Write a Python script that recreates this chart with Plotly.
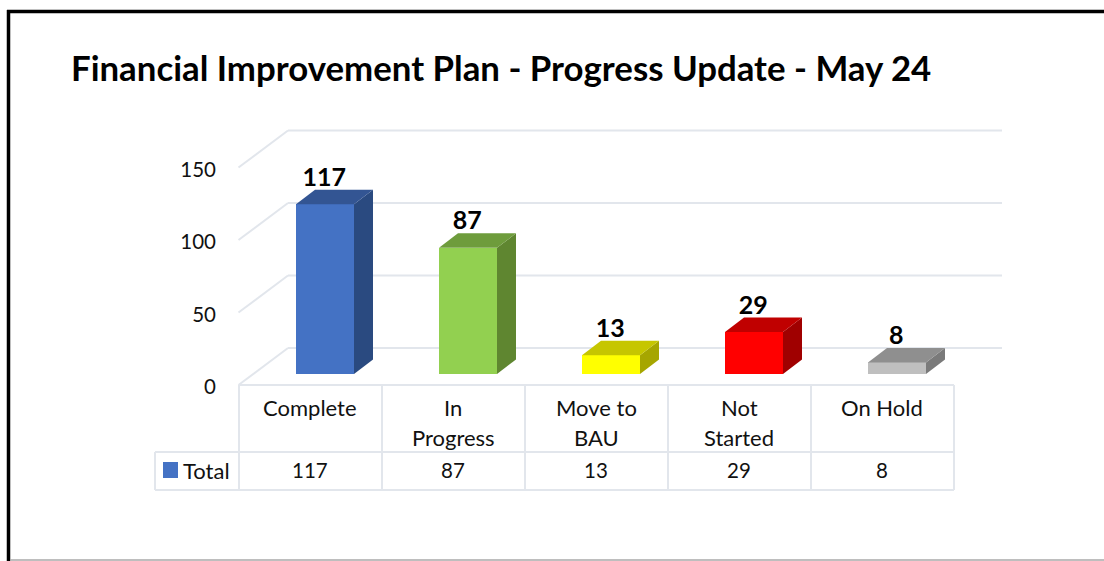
import plotly.graph_objects as go

TITLE = "Financial Improvement Plan - Progress Update - May 24"
categories = ["Complete", "In\nProgress", "Move to\nBAU", "Not\nStarted", "On Hold"]
values = [117, 87, 13, 29, 8]
series_name = "Total"
y_ticks = [0, 50, 100, 150]
front_colors = ["#4472C4", "#92D050", "#FFFF00", "#FF0000", "#BFBFBF"]
side_colors = ["#2A4A80", "#5F8630", "#A6A600", "#A00000", "#7A7A7A"]
top_colors = ["#335593", "#6E9C3C", "#C6C600", "#C00000", "#8F8F8F"]

W, H = 1104, 561
PITCH = 143.0       # px per category
X0 = 325.0          # px of first bar centre
UNIT = 1.45         # px per value unit
Y0 = 374.0          # px of value 0 on the bars' front plane
FONT = "Lato"
GRID = "#E2E6EC"
TEXT = "#111111"

BAR_W = 58 / PITCH
DX = 19 / PITCH     # depth offset in x (data)
DY = 14.5 / UNIT    # depth offset in y (data)

def px(v):
    return (v - X0) / PITCH
def py(v):
    return (Y0 - v) / UNIT
def pfx(v):
    return v / W
def pfy(v):
    return 1 - v / H

fig = go.Figure()
idx = list(range(len(values)))
fig.add_bar(x=idx, y=values, width=BAR_W, marker=dict(color=front_colors, line=dict(width=0)),
            hoverinfo="skip", showlegend=False)

for i, v in enumerate(values):
    l, r = i - BAR_W / 2, i + BAR_W / 2
    fig.add_scatter(x=[r, r + DX, r + DX, r, r], y=[0, DY, v + DY, v, 0], mode="lines",
                    fill="toself", fillcolor=side_colors[i], line=dict(width=0),
                    hoverinfo="skip", showlegend=False)
    fig.add_scatter(x=[l, l + DX, r + DX, r, l], y=[v, v + DY, v + DY, v, v], mode="lines",
                    fill="toself", fillcolor=top_colors[i], line=dict(width=0),
                    hoverinfo="skip", showlegend=False)

# data labels
fig.add_scatter(x=[i - 0.005 for i in idx], y=[v + DY + 7.0 for v in values], mode="text",
                text=[str(v) for v in values], textposition="middle center",
                textfont=dict(family=FONT, size=25, color="#000000", weight="bold"),
                hoverinfo="skip", showlegend=False)

shapes = []
def line(x0, y0, x1, y1, color=GRID, width=2, xref="paper", yref="paper", layer="above"):
    shapes.append(dict(type="line", x0=x0, y0=y0, x1=x1, y1=y1, xref=xref, yref=yref,
                       layer=layer, line=dict(color=color, width=width)))

# 3-D wall gridlines, in value space
FRONT_OFF = py(385)
BACK_OFF = py(348)
for t in y_ticks:
    line(px(238.5), t + FRONT_OFF, px(288), t + BACK_OFF, xref="x", yref="y", layer="below")
    line(px(288), t + BACK_OFF, px(1002), t + BACK_OFF, xref="x", yref="y", layer="below")

# data table
cols = [239 + PITCH * k for k in range(len(values) + 1)]
T_TOP, T_MID, T_BOT, T_LEFT = 385, 452, 490, 155
line(pfx(cols[0]), pfy(T_TOP), pfx(cols[-1]), pfy(T_TOP))
line(pfx(T_LEFT), pfy(T_MID), pfx(cols[-1]), pfy(T_MID))
line(pfx(T_LEFT), pfy(T_BOT), pfx(cols[-1]), pfy(T_BOT))
line(pfx(T_LEFT), pfy(T_MID), pfx(T_LEFT), pfy(T_BOT))
for c in cols:
    line(pfx(c), pfy(T_TOP), pfx(c), pfy(T_BOT))

# legend key
shapes.append(dict(type="rect", xref="paper", yref="paper", x0=pfx(163), x1=pfx(178),
                   y0=pfy(478), y1=pfy(462), fillcolor="#4472C4", line=dict(width=0)))

# page frame
line(pfx(7), pfy(11.5), pfx(W), pfy(11.5), color="#000000", width=3.5)
line(pfx(8.5), pfy(10), pfx(8.5), pfy(H), color="#000000", width=3.5)
line(pfx(10), pfy(560), pfx(W), pfy(560), color="#A8A8A8", width=1.5)

annotations = []
def label(x, y, text, size=22, anchor="center"):
    annotations.append(dict(x=pfx(x), y=pfy(y), xref="paper", yref="paper", text=text,
                            showarrow=False, xanchor=anchor, yanchor="middle",
                            font=dict(family=FONT, size=size, color=TEXT)))

for i, (cat, v) in enumerate(zip(categories, values)):
    cx = (cols[i] + cols[i + 1]) / 2 - 0.5
    for j, part in enumerate(cat.split("\n")):
        label(cx, 407.5 + 30 * j, part)
    label(cx, 470.5, str(v), size=20.5)
label(181, 470, series_name, anchor="left")

fig.update_layout(
    width=W, height=H, margin=dict(l=0, r=0, t=0, b=0),
    paper_bgcolor="white", plot_bgcolor="rgba(0,0,0,0)",
    title=dict(text="<b>" + TITLE + "</b>", x=71 / W, xanchor="left", y=1 - 69 / H, yanchor="middle",
               font=dict(family=FONT, size=34.8, color="#000000")),
    xaxis=dict(range=[px(0), px(W)], visible=False, fixedrange=True),
    yaxis=dict(range=[py(H), py(0)], showgrid=False, zeroline=False, showline=False,
               anchor="free", position=216 / W, side="left", ticks="",
               tickvals=[t + py(387) for t in y_ticks], ticktext=[str(t) for t in y_ticks],
               ticklabelstandoff=0, automargin=False,
               tickfont=dict(family=FONT, size=20.5, color=TEXT), fixedrange=True),
    shapes=shapes, annotations=annotations, showlegend=False, bargap=0,
)
fig.write_html("out.html", config=dict(displayModeBar=False),
               post_script="document.body.style.margin='0';document.body.style.overflow='hidden';")
